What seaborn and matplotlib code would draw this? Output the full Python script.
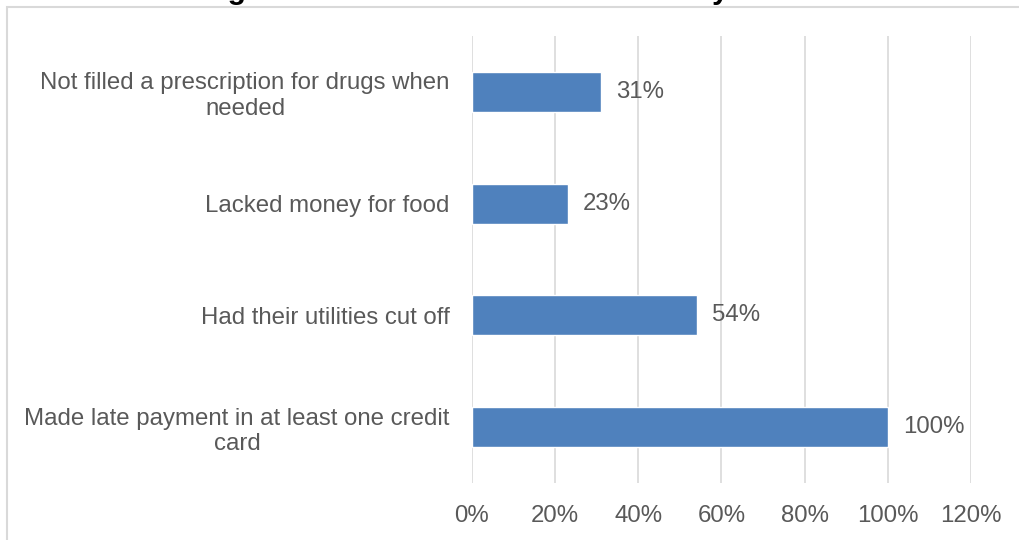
import matplotlib
matplotlib.use("Agg")
import matplotlib.pyplot as plt
from matplotlib.patches import Rectangle
from matplotlib.ticker import PercentFormatter
import seaborn as sns
import pandas as pd

# Survey results: share of respondents reporting each hardship
categories = [
    "Not filled a prescription for drugs when\nneeded",
    "Lacked money for food",
    "Had their utilities cut off",
    "Made late payment in at least one credit\ncard",
]
shares = [0.31, 0.23, 0.54, 1.00]
x_ticks = [0.0, 0.2, 0.4, 0.6, 0.8, 1.0, 1.2]
title = "Figure 4: Financial Distress Faced by Victims"

df = pd.DataFrame({"category": categories, "share": shares})

sns.set_theme(style="white")
plt.rcParams["font.family"] = ["Liberation Sans", "DejaVu Sans"]

TEXT = "#595959"
GRID = "#D9D9D9"
BAR = "#4F81BD"
FS = 17.3

fig = plt.figure(figsize=(10.2, 5.4), dpi=100)
ax = fig.add_axes([472 / 1020, 1 - 483 / 540, (971 - 472) / 1020, (483 - 36) / 540])

sns.barplot(data=df, x="share", y="category", orient="h", color=BAR,
            width=0.36, saturation=1, ax=ax, order=categories)

ax.set_xlim(0, 1.2)
ax.set_xticks(x_ticks)
ax.xaxis.set_major_formatter(PercentFormatter(1.0, decimals=0))
ax.grid(axis="x", color=GRID, linewidth=1.2)
ax.grid(axis="y", visible=False)
ax.set_axisbelow(True)
for s in ax.spines.values():
    s.set_visible(False)

ax.set_xlabel("")
ax.set_ylabel("")
ax.tick_params(axis="x", length=0, pad=16, labelsize=FS, labelcolor=TEXT)
ax.tick_params(axis="y", length=0, pad=16, labelsize=FS, labelcolor=TEXT)
for lab in ax.get_yticklabels():
    lab.set_multialignment("center")

for cont in ax.containers:
    texts = ax.bar_label(cont, labels=[f"{v * 100:.0f}%" for v in shares],
                         padding=11, fontsize=FS, color=TEXT)

# chart-area frame
fig.patches.append(Rectangle((7.5 / 1020, -0.1), 1.2, 1.1 - 7 / 540,
                             transform=fig.transFigure, fill=False,
                             edgecolor=GRID, linewidth=1.5, zorder=0))

# chart title sits above the frame, mostly outside the canvas
fig.text(522 / 1020, 1 + 1 / 540, title, ha="center", va="baseline",
         fontsize=21.5, fontweight="bold", color="black")

fig.savefig("out.png", dpi=100, facecolor="white")
